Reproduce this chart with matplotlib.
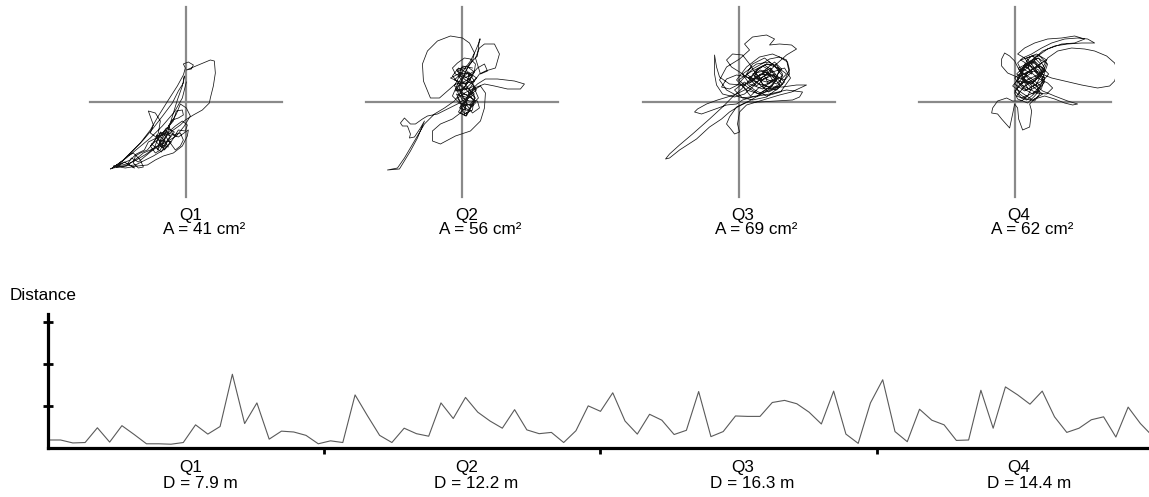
import matplotlib
matplotlib.use('Agg')
import matplotlib.pyplot as plt
import numpy as np

plt.rcParams['font.family'] = ['Liberation Sans', 'DejaVu Sans']

quarters = ['Q1', 'Q2', 'Q3', 'Q4']
areas = [41, 56, 69, 62]          # cm2
distances = [7.9, 12.2, 16.3, 14.4]  # m

# sway paths (offset from centre, mm)
q1_path = [
    (-16, -34), (-21, -28), (-26, -38), (-29, -48), (-24, -41), (-19, -31), (-11, -24), (-4, -19),
    (1, -23), (-1, -29), (-8, -28), (-14, -38), (-23, -48), (-33, -54), (-43, -59), (-51, -63),
    (-63, -64), (-73, -66), (-76, -67), (-66, -61), (-56, -51), (-46, -41), (-36, -28), (-28, -14),
    (-18, 2), (-9, 16), (-3, 27), (-1, 34), (-3, 38), (2, 40), (7, 37), (5, 33), (0, 32), (12, 37),
    (24, 42), (28, 41), (29, 29), (27, 16), (24, 4), (23, -1), (16, -8), (7, -13), (-1, -18),
    (-6, -23), (-13, -28), (-19, -33), (-24, -39), (-29, -44), (-36, -48), (-43, -51), (-49, -56),
    (-56, -61), (-64, -63), (-71, -64), (-63, -58), (-53, -48), (-43, -38), (-33, -26), (-23, -13),
    (-14, -1), (-8, 11), (-3, 19), (-2, 26), (-4, 16), (-9, 2), (-13, -11), (-16, -21), (-19, -31),
    (-23, -41), (-26, -48), (-31, -51), (-36, -44), (-31, -38), (-26, -31), (-21, -34), (-16, -41),
    (-11, -48), (-6, -44), (-3, -38), (-6, -31), (-13, -33), (-18, -24), (-14, -18), (-8, -16),
    (-3, -13), (-4, -8), (-10, -9), (-13, -19), (-21, -28), (-29, -36), (-36, -31), (-33, -23),
    (-38, -9), (-31, -11), (-26, -19), (-28, -31), (-33, -41), (-39, -48), (-46, -51), (-51, -54),
    (-53, -61), (-48, -66), (-43, -65), (-46, -58), (-53, -51), (-59, -54), (-64, -59), (-69, -63),
    (-73, -64), (-61, -66), (-49, -64), (-39, -63), (-31, -58), (-23, -54), (-13, -51), (-4, -44),
    (1, -34), (2, -28), (-8, -35), (-20, -30), (-27, -42), (-18, -45), (-24, -36), (-30, -33),
    (-22, -48), (-15, -40), (-28, -38), (-35, -42), (-25, -50), (-18, -38), (-12, -30), (-20, -26),
    (-30, -40), (-24, -46), (-16, -34), (-26, -30), (-32, -46), (-40, -52), (-50, -58), (-58, -62),
    (-52, -66), (-62, -60), (-70, -65), (-60, -64), (-55, -56), (-48, -60), (-42, -55), (-36, -50),
    (-28, -44), (-20, -40), (-10, -34), (-2, -24), (4, -14), (0, -6), (-6, -2), (-10, -12),
    (-16, -22), (-22, -32), (-30, -36), (-38, -40), (-42, -48), (-50, -52), (-56, -58), (-66, -62),
    (-74, -66), (-60, -56), (-48, -46), (-36, -36), (-24, -24), (-12, -10), (-4, 4), (0, 20),
]
q2_path = [
    (0, 28), (-5, 31), (3, 34), (8, 24), (-2, 18), (-7, 11), (5, 14), (12, 8), (2, 1), (-3, -6),
    (7, -9), (2, -12), (-2, -4), (8, -2), (13, 4), (5, 11), (-5, 21), (-12, 24), (-2, 29), (7, 28),
    (12, 21), (3, 19), (-7, 18), (-15, 11), (-23, 4), (-32, 4), (-39, 21), (-40, 38), (-35, 51),
    (-25, 61), (-12, 66), (0, 64), (7, 59), (12, 49), (10, 41), (5, 34), (2, 28), (-2, 19), (-7, 13),
    (0, 8), (10, 13), (15, 18), (23, 23), (35, 23), (52, 21), (62, 18), (58, 13), (45, 13), (32, 16),
    (22, 18), (12, 14), (5, 6), (2, -2), (-2, -11), (-10, -17), (-22, -22), (-30, -29), (-30, -39),
    (-22, -42), (-7, -34), (8, -29), (18, -19), (22, -6), (23, 9), (18, 16), (10, 11), (3, 3),
    (-5, -2), (-15, -7), (-25, -12), (-35, -14), (-40, -17), (-47, -22), (-52, -22), (-58, -16),
    (-62, -21), (-60, -24), (-55, -24), (-52, -32), (-53, -36), (-48, -35), (-42, -26), (-38, -19),
    (-45, -36), (-52, -49), (-60, -62), (-63, -67), (-75, -68), (-65, -66), (-58, -56), (-48, -39),
    (-38, -22), (-28, -12), (-18, -6), (-8, 1), (-3, 8), (2, 14), (5, 21), (7, 28), (12, 31),
    (13, 38), (8, 43), (2, 44), (-5, 39), (-10, 34), (-7, 28), (2, 24), (10, 28), (15, 34), (22, 38),
    (25, 31), (18, 28), (13, 44), (17, 54), (22, 58), (32, 58), (37, 48), (33, 34), (23, 31),
    (17, 28), (12, 21), (7, 13), (5, 3), (2, -7), (-2, -11), (3, -14), (8, -6), (13, -1), (8, 6),
    (2, 8), (-5, 4), (-2, -1), (5, -4), (10, -11), (17, -6), (15, 1), (7, 1), (0, 4), (-3, 14),
    (0, 24), (7, 38), (15, 46), (17, 63), (18, 63), (13, 51), (8, 41), (0, 30), (-8, 22), (4, 18),
    (10, 26), (-4, 34), (-10, 26), (2, 12), (12, 16), (6, 4), (-6, 8), (0, -4), (10, -2), (4, -14),
    (-4, -10), (6, 6), (14, 12), (8, 22), (-2, 28), (-8, 16), (2, 8), (12, 2), (6, -8), (-2, -2),
    (-10, 6), (-4, 20), (6, 30), (14, 24), (4, 14), (-6, 12), (0, 2), (8, -4), (16, 4), (10, 18),
    (0, 24), (-6, 32), (4, 36), (12, 30), (6, 20), (-2, 10), (4, 0), (2, -12), (10, -8), (12, 6),
    (4, 16), (-4, 26), (0, 36), (10, 34),
]
q3_path = [
    (21, 22), (14, 28), (28, 32), (34, 22), (24, 13), (11, 18), (4, 28), (18, 38), (31, 40), (41, 32),
    (34, 17), (21, 8), (8, 12), (-2, 22), (8, 35), (21, 45), (34, 48), (48, 42), (51, 28), (41, 15),
    (28, 5), (14, 2), (1, 5), (-12, 12), (-19, 22), (-12, 35), (1, 43), (11, 52), (6, 58), (14, 65),
    (28, 67), (36, 63), (31, 57), (41, 58), (53, 57), (58, 53), (48, 47), (38, 38), (28, 28),
    (18, 20), (8, 13), (-2, 8), (-11, 5), (-21, 2), (-32, -2), (-41, -7), (-44, -10), (-37, -12),
    (-26, -8), (-12, -3), (-2, -2), (4, 2), (14, 5), (31, 8), (48, 12), (64, 10), (61, 5), (54, 2),
    (38, 1), (21, 0), (8, 0), (-2, -5), (-9, -15), (-12, -22), (-7, -28), (-4, -32), (1, -30),
    (-1, -22), (1, -10), (8, -3), (18, 0), (28, 3), (41, 7), (53, 10), (68, 17), (58, 17), (44, 15),
    (31, 15), (21, 18), (11, 23), (1, 30), (-7, 35), (-12, 42), (-6, 48), (4, 47), (11, 38), (18, 27),
    (24, 18), (33, 13), (41, 18), (44, 28), (38, 37), (28, 38), (19, 33), (16, 25), (23, 22),
    (29, 25), (33, 32), (26, 37), (18, 32), (11, 22), (3, 13), (-6, 5), (-16, -5), (-29, -17),
    (-46, -32), (-59, -43), (-69, -52), (-73, -57), (-69, -56), (-59, -48), (-42, -37), (-29, -25),
    (-17, -17), (-9, -10), (-1, -5), (9, 0), (21, 7), (31, 13), (38, 22), (34, 30), (24, 25),
    (14, 15), (6, 8), (-4, 5), (-16, 8), (-22, 17), (-24, 28), (-24, 47), (-22, 35), (-19, 25),
    (-9, 18), (3, 17), (13, 20), (21, 27), (31, 28), (39, 25), (46, 22), (51, 32), (49, 40), (41, 45),
    (31, 43), (23, 38), (14, 33), (6, 25), (-1, 17), (-9, 13), (-17, 15), (-12, 23), (-2, 27),
    (8, 25), (18, 23), (28, 20), (36, 23), (43, 33), (36, 40), (24, 30), (30, 18), (40, 24), (32, 34),
    (20, 26), (26, 14), (38, 12), (46, 20), (36, 28), (24, 22), (16, 30), (28, 38), (40, 34), (48, 28),
    (38, 18), (26, 24), (18, 16), (10, 24), (22, 32), (34, 26), (42, 16), (30, 10), (18, 20), (8, 28),
    (14, 38), (26, 44), (36, 36), (44, 26), (32, 20), (20, 14), (12, 6), (4, 16), (16, 24), (28, 30),
    (38, 22), (30, 14), (20, 8), (10, 14), (0, 22), (12, 30), (24, 36), (34, 30), (46, 34), (52, 24),
    (42, 10), (28, 6), (16, 12), (6, 20), (-4, 12), (4, 4), (18, 6), (32, 12), (44, 18), (36, 26),
    (22, 28), (12, 20),
]
q4_path = [
    (17, 28), (7, 34), (20, 41), (30, 31), (17, 18), (3, 21), (10, 34), (23, 44), (33, 38), (27, 21),
    (10, 11), (0, 18), (7, 28), (20, 31), (30, 24), (23, 11), (7, 4), (0, 11), (10, 21), (25, 28),
    (33, 44), (43, 51), (57, 54), (70, 53), (80, 51), (92, 46), (100, 39), (103, 31), (100, 21),
    (95, 16), (83, 14), (67, 17), (50, 21), (37, 24), (27, 28), (17, 34), (10, 44), (3, 48), (10, 54),
    (20, 59), (33, 63), (47, 64), (60, 66), (70, 63), (60, 59), (47, 58), (33, 53), (23, 46),
    (13, 38), (5, 31), (0, 41), (-5, 46), (-10, 49), (-13, 43), (-13, 36), (-7, 29), (0, 26),
    (8, 23), (17, 14), (13, 6), (7, 1), (-2, 1), (-8, 4), (-17, 1), (-22, -6), (-23, -11), (-17, -12),
    (-13, -17), (-5, -26), (-2, -12), (0, -2), (3, -6), (4, -17), (8, -28), (15, -25), (17, -9),
    (15, -2), (20, 3), (30, 6), (40, 3), (50, -1), (58, -3), (63, -2), (53, 1), (40, 6), (28, 11),
    (20, 18), (13, 24), (7, 31), (3, 39), (8, 44), (17, 48), (27, 54), (37, 59), (50, 63), (63, 64),
    (73, 63), (80, 59), (67, 59), (53, 58), (40, 56), (28, 51), (20, 44), (13, 39), (8, 33), (3, 24),
    (2, 14), (5, 8), (12, 3), (20, 1), (25, 8), (22, 16), (13, 21), (5, 18), (0, 9), (3, 3), (13, -1),
    (20, 6), (27, 14), (30, 24), (25, 34), (17, 41), (10, 38), (7, 28), (12, 19), (20, 21), (28, 29),
    (32, 39), (25, 46), (17, 46), (12, 41), (15, 31), (23, 24), (33, 19), (38, 14), (32, 8), (22, 9),
    (13, 14), (8, 23), (18, 30), (10, 36), (2, 28), (14, 20), (24, 26), (16, 36), (6, 42), (18, 46),
    (26, 38), (14, 30), (4, 20), (12, 12), (22, 18), (28, 30), (20, 40), (10, 32), (0, 24), (8, 14),
    (18, 8), (26, 16), (16, 24), (6, 30), (14, 40), (24, 44), (30, 34), (20, 22), (10, 16), (2, 6),
    (12, 2), (22, 10), (30, 20), (24, 32), (12, 38), (4, 34), (8, 24), (20, 14), (28, 8), (18, 2),
    (6, 10), (-2, 16), (6, 26), (16, 32), (26, 36), (34, 28), (26, 18), (16, 12), (6, 18), (12, 28),
    (22, 36), (32, 42), (22, 48), (12, 44), (20, 34), (28, 22),
]
paths = [q1_path, q2_path, q3_path, q4_path]

# distance per sample (arbitrary units)
dist = [
    0.19, 0.19, 0.12, 0.13, 0.48, 0.14, 0.53, 0.32, 0.10, 0.10, 0.09, 0.13, 0.55, 0.33, 0.51, 1.75,
    0.58, 1.07, 0.21, 0.40, 0.38, 0.30, 0.10, 0.17, 0.13, 1.26, 0.77, 0.30, 0.13, 0.47, 0.34, 0.28,
    1.07, 0.70, 1.20, 0.85, 0.64, 0.47, 0.91, 0.43, 0.34, 0.37, 0.13, 0.41, 1.00, 0.87, 1.31, 0.64,
    0.33, 0.80, 0.66, 0.32, 0.42, 1.34, 0.27, 0.39, 0.76, 0.75, 0.75, 1.08, 1.13, 1.05, 0.85, 0.57,
    1.35, 0.33, 0.11, 1.07, 1.62, 0.39, 0.15, 0.92, 0.66, 0.55, 0.18, 0.19, 1.37, 0.47, 1.45, 1.26,
    1.04, 1.35, 0.74, 0.37, 0.47, 0.67, 0.74, 0.26, 0.97, 0.58, 0.28,
]

W, H = 1149, 497
fig = plt.figure(figsize=(W / 100, H / 100), dpi=100)

# bottom distance axis
x0, x1 = 48.3, 1149
ax = fig.add_axes([x0 / W, 49 / H, (x1 - x0) / W, (448 - 314) / H])
ax.plot(np.arange(len(dist)), dist, color='#5a5a5a', lw=0.8)
ax.set_xlim(0, 89.7)
ax.set_ylim(0, 3.18)
ax.set_xticks([22.5, 45, 67.5])
ax.set_yticks([1, 2, 3])
ax.set_xticklabels([])
ax.set_yticklabels([])
for s in ['top', 'right']:
    ax.spines[s].set_visible(False)
for s in ['left', 'bottom']:
    ax.spines[s].set_linewidth(2.3)
ax.tick_params(axis='y', direction='inout', length=6.5, width=2)
ax.tick_params(axis='x', direction='out', length=4, width=2)
fig.text(10 / W, 1 - 300 / H, 'Distance', fontsize=12.3, ha='left', va='baseline')

qw = (x1 - x0) / 89.7 * 22.5
for i, q in enumerate(quarters):
    cx = x0 + qw * (i + 0.5)
    # sway panel
    a = fig.add_axes([(cx - 100) / W, 1 - 202 / H, 200 / W, 200 / H])
    a.set_xlim(-100, 100)
    a.set_ylim(-100, 100)
    a.axis('off')
    a.plot([-96, 96], [0, 0], color='#8a8a8a', lw=1.6, zorder=1)
    a.plot([0, 0], [-95, 95], color='#8a8a8a', lw=1.6, zorder=1)
    p = np.array(paths[i])
    a.plot(p[:, 0], p[:, 1], color='#151515', lw=0.55, zorder=2)
    fig.text((cx + 4) / W, 1 - 220 / H, q, fontsize=12.3, ha='center', va='baseline')
    fig.text((cx + 18) / W, 1 - 234 / H, f'A = {areas[i]} cm\u00b2', fontsize=12.3,
             ha='center', va='baseline')
    fig.text((cx + 4) / W, 1 - 472 / H, q, fontsize=12.3, ha='center', va='baseline')
    fig.text((cx + 14) / W, 1 - 488 / H, f'D = {distances[i]} m', fontsize=12.3,
             ha='center', va='baseline')

fig.savefig('out.png', dpi=100)
